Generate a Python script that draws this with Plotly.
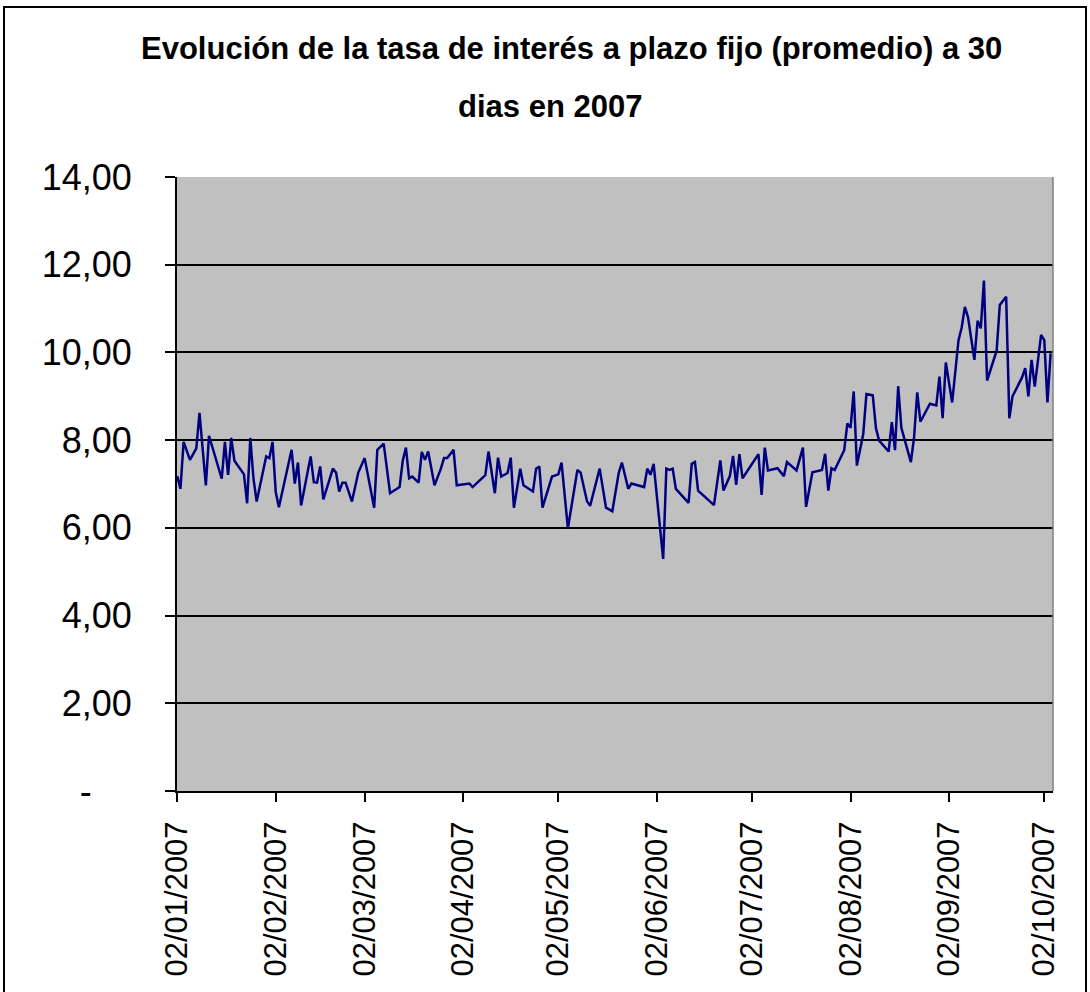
import plotly.graph_objects as go

dates = [
    "2007-01-02","2007-01-03","2007-01-04","2007-01-06","2007-01-08","2007-01-09","2007-01-11","2007-01-12",
    "2007-01-16","2007-01-17","2007-01-18","2007-01-19","2007-01-20","2007-01-23","2007-01-24","2007-01-25",
    "2007-01-26","2007-01-27","2007-01-30","2007-01-31","2007-02-01","2007-02-02","2007-02-03","2007-02-07",
    "2007-02-08","2007-02-09","2007-02-10","2007-02-13","2007-02-14","2007-02-15","2007-02-16","2007-02-17",
    "2007-02-20","2007-02-21","2007-02-22","2007-02-23","2007-02-24","2007-02-26","2007-02-28","2007-03-02",
    "2007-03-05","2007-03-06","2007-03-08","2007-03-10","2007-03-13","2007-03-14","2007-03-15","2007-03-16",
    "2007-03-17","2007-03-19","2007-03-20","2007-03-21","2007-03-22","2007-03-24","2007-03-26","2007-03-27",
    "2007-03-28","2007-03-30","2007-03-31","2007-04-04","2007-04-05","2007-04-09","2007-04-10","2007-04-12",
    "2007-04-13","2007-04-14","2007-04-16","2007-04-17","2007-04-18","2007-04-20","2007-04-21","2007-04-24",
    "2007-04-25","2007-04-26","2007-04-27","2007-04-30","2007-05-02","2007-05-03","2007-05-05","2007-05-08",
    "2007-05-09","2007-05-10","2007-05-11","2007-05-12","2007-05-15","2007-05-17","2007-05-19","2007-05-21",
    "2007-05-22","2007-05-24","2007-05-25","2007-05-29","2007-05-30","2007-05-31","2007-06-01","2007-06-04",
    "2007-06-05","2007-06-06","2007-06-07","2007-06-08","2007-06-12","2007-06-13","2007-06-14","2007-06-15",
    "2007-06-20","2007-06-22","2007-06-23","2007-06-25","2007-06-26","2007-06-27","2007-06-28","2007-06-29",
    "2007-07-04","2007-07-05","2007-07-06","2007-07-07","2007-07-10","2007-07-12","2007-07-13","2007-07-16",
    "2007-07-18","2007-07-19","2007-07-21","2007-07-24","2007-07-25","2007-07-26","2007-07-27","2007-07-28",
    "2007-07-31","2007-08-01","2007-08-02","2007-08-03","2007-08-04","2007-08-06","2007-08-07","2007-08-09",
    "2007-08-10","2007-08-11","2007-08-14","2007-08-15","2007-08-16","2007-08-17","2007-08-18","2007-08-21",
    "2007-08-22","2007-08-23","2007-08-24","2007-08-27","2007-08-29","2007-08-30","2007-08-31","2007-09-01",
    "2007-09-03","2007-09-05","2007-09-06","2007-09-07","2007-09-08","2007-09-10","2007-09-11","2007-09-12",
    "2007-09-13","2007-09-14","2007-09-17","2007-09-18","2007-09-20","2007-09-21","2007-09-22","2007-09-25",
    "2007-09-26","2007-09-27","2007-09-28","2007-09-29","2007-10-01","2007-10-02","2007-10-03","2007-10-04",
]

tasa = [
    7.18, 6.89, 7.96, 7.55, 7.81, 8.62, 6.97, 8.10,
    7.12, 7.96, 7.21, 8.05, 7.53, 7.22, 6.56, 8.05,
    7.12, 6.60, 7.63, 7.59, 7.96, 6.82, 6.47, 7.78,
    7.01, 7.49, 6.51, 7.63, 7.04, 7.03, 7.40, 6.65,
    7.35, 7.26, 6.83, 7.03, 7.03, 6.60, 7.26, 7.59,
    6.46, 7.78, 7.92, 6.79, 6.93, 7.53, 7.83, 7.13,
    7.17, 7.03, 7.73, 7.55, 7.74, 6.97, 7.35, 7.59,
    7.59, 7.78, 6.97, 7.01, 6.93, 7.20, 7.74, 6.79,
    7.60, 7.17, 7.25, 7.60, 6.46, 7.35, 6.97, 6.83,
    7.35, 7.40, 6.46, 7.17, 7.22, 7.49, 5.99, 7.32,
    7.26, 6.95, 6.61, 6.50, 7.35, 6.46, 6.38, 7.25,
    7.49, 6.89, 7.01, 6.93, 7.35, 7.21, 7.46, 5.29,
    7.35, 7.32, 7.35, 6.89, 6.57, 7.46, 7.50, 6.85,
    6.52, 7.54, 6.85, 7.18, 7.64, 6.98, 7.68, 7.13,
    7.68, 6.75, 7.83, 7.31, 7.36, 7.18, 7.50, 7.31,
    7.83, 6.48, 7.27, 7.32, 7.69, 6.85, 7.36, 7.32,
    7.77, 8.38, 8.28, 9.11, 7.42, 8.14, 9.05, 9.02,
    8.27, 7.99, 7.74, 8.41, 7.77, 9.23, 8.28, 7.50,
    8.06, 9.09, 8.42, 8.83, 8.79, 9.45, 8.50, 9.77,
    8.86, 10.28, 10.57, 11.04, 10.80, 9.83, 10.72, 10.55,
    11.64, 9.36, 10.04, 11.08, 11.27, 8.50, 9.00, 9.43,
    9.64, 9.00, 9.83, 9.22, 10.40, 10.28, 8.86, 9.98,
]

x_tick_vals = ["2007-01-02","2007-02-02","2007-03-02","2007-04-02","2007-05-02",
               "2007-06-02","2007-07-02","2007-08-02","2007-09-02","2007-10-02"]
x_tick_text = ["02/01/2007","02/02/2007","02/03/2007","02/04/2007","02/05/2007",
               "02/06/2007","02/07/2007","02/08/2007","02/09/2007","02/10/2007"]
y_tick_vals = [0, 2, 4, 6, 8, 10, 12, 14]
y_tick_text = ["-\u00a0\u00a0\u00a0\u00a0", "2,00", "4,00", "6,00", "8,00", "10,00", "12,00", "14,00"]

title_line1 = "Evolución de la tasa de interés a plazo fijo (promedio) a 30"
title_line2 = "dias en 2007"

FONT = "Liberation Sans, Arial, sans-serif"

fig = go.Figure()
fig.add_trace(go.Scatter(x=dates, y=tasa, mode="lines",
                         line=dict(color="#000080", width=2.5), showlegend=False))

L, R, T, B = 177, 37, 177, 201
W, H = 1090, 992
pw, ph = W - L - R, H - T - B

def px(x):
    return (x - L) / pw

def py(y):
    return (H - B - y) / ph

fig.update_layout(
    width=W, height=H,
    margin=dict(l=L, r=R, t=T, b=B, pad=0),
    paper_bgcolor="white", plot_bgcolor="#C0C0C0",
    font=dict(family=FONT, color="black"),
    xaxis=dict(type="date", range=["2007-01-01 22:00", "2007-10-04 18:00"],
               tickvals=x_tick_vals, ticktext=x_tick_text, tickangle=-90,
               tickfont=dict(size=31, family=FONT), ticks="outside", ticklen=9,
               tickwidth=1.5, tickcolor="black", showgrid=False,
               showline=True, linecolor="black", linewidth=2,
               ticklabelstandoff=7, zeroline=False),
    yaxis=dict(range=[0, 14], tickvals=y_tick_vals, ticktext=y_tick_text,
               tickfont=dict(size=36, family=FONT), ticks="outside", ticklen=10,
               tickwidth=1.5, tickcolor="black", showgrid=True,
               gridcolor="black", gridwidth=1.5, showline=True,
               linecolor="black", linewidth=2, zeroline=False,
               ticklabelstandoff=26),
    shapes=[
        dict(type="line", xref="paper", yref="paper", x0=1, x1=1, y0=0, y1=1,
             line=dict(color="#808080", width=1.5)),
        dict(type="rect", xref="paper", yref="paper",
             x0=px(4), x1=px(1086), y0=py(1010), y1=py(7),
             line=dict(color="black", width=2), fillcolor="rgba(0,0,0,0)"),
    ],
    annotations=[
        dict(text="<b>" + title_line1 + "</b>", xref="paper", yref="paper",
             x=px(571), y=py(49), xanchor="center", yanchor="middle",
             showarrow=False, font=dict(size=31, family=FONT, color="black")),
        dict(text="<b>" + title_line2 + "</b>", xref="paper", yref="paper",
             x=px(550), y=py(107), xanchor="center", yanchor="middle",
             showarrow=False, font=dict(size=31, family=FONT, color="black")),
    ],
)

fig.write_html("out.html", config={"displayModeBar": False},
               post_script="document.body.style.margin='0px';")
